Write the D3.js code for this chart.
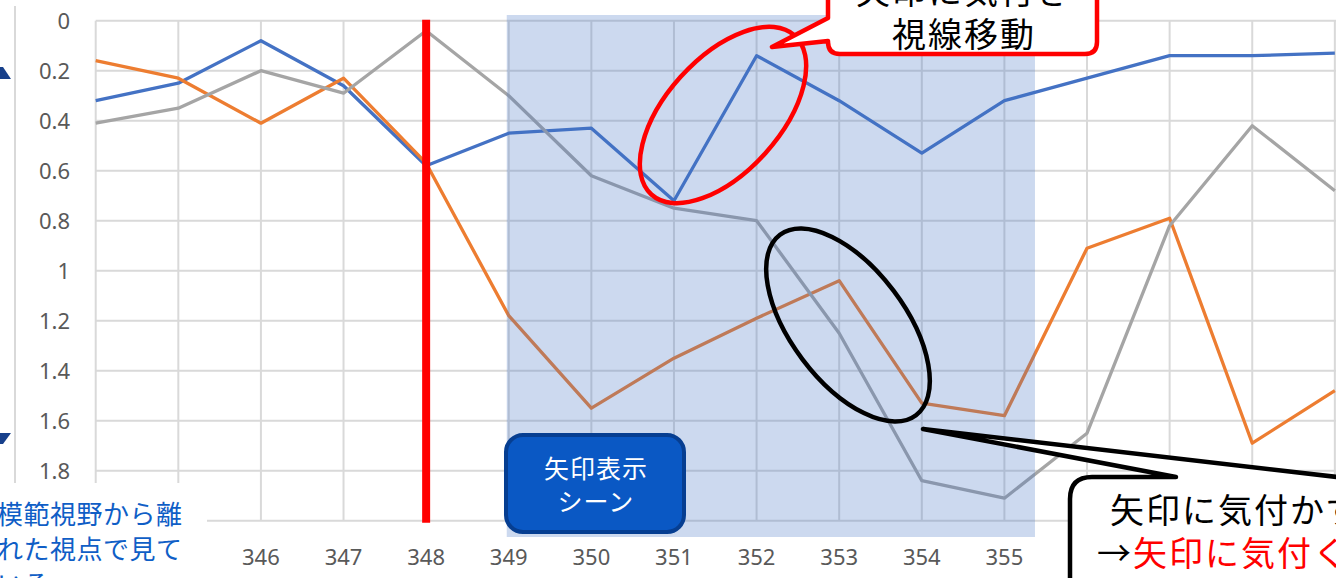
<!DOCTYPE html>
<html>
<head>
<meta charset="utf-8">
<script src="https://cdn.jsdelivr.net/npm/d3@7"></script>
<style>
  html, body { margin: 0; padding: 0; background: #fff; overflow: hidden; }
  svg { display: block; }
</style>
</head>
<body>
<div id="chart"></div>
<script>
// datos de la gráfica (eje Y invertido, 0 arriba)
const categories = ['344', '345', '346', '347', '348', '349', '350', '351', '352', '353', '354', '355', '356', '357', '358', '359'];
const blueValues   = [0.32, 0.25, 0.08, 0.26, 0.58, 0.45, 0.43, 0.72, 0.14, 0.32, 0.53, 0.32, 0.23, 0.14, 0.14, 0.13];
const orangeValues = [0.16, 0.23, 0.41, 0.23, 0.57, 1.18, 1.55, 1.35, 1.19, 1.04, 1.53, 1.58, 0.91, 0.79, 1.69, 1.48];
const grayValues   = [0.41, 0.35, 0.20, 0.29, 0.04, 0.30, 0.62, 0.75, 0.80, 1.25, 1.84, 1.91, 1.65, 0.82, 0.42, 0.68];
const yTicks = [0, 0.2, 0.4, 0.6, 0.8, 1, 1.2, 1.4, 1.6, 1.8, 2];
// etiquetas tapadas por los cuadros de texto en la diapositiva
const hiddenXLabels = ['344', '345', '356', '357', '358', '359'];
const hiddenYLabels = [2];

const series = [
  { name: 'blue', values: blueValues, color: '#4472C4' },
  { name: 'orange', values: orangeValues, color: '#ED7D31' },
  { name: 'gray', values: grayValues, color: '#A5A5A5' }
];

const width = 1336, height = 578;
const step = 82.61;
const left = 95.7;

const svg = d3.select('#chart').append('svg')
  .attr('width', width)
  .attr('height', height);

// escalas
const x = d3.scalePoint()
  .domain(categories)
  .range([left, left + step * (categories.length - 1)]);

const y = d3.scaleLinear()
  .domain([0, 2])
  .range([20.7, 520.7]);

const gridColor = '#D9D9D9';
const jpFont = '"Noto Sans CJK JP", "Noto Sans CJK SC", sans-serif';

// línea vertical izquierda (fuera del gráfico)
svg.append('line')
  .attr('x1', 15).attr('x2', 15)
  .attr('y1', 6).attr('y2', 483)
  .attr('stroke', gridColor)
  .attr('stroke-width', 2);

// puntas de flecha azules a la izquierda
svg.append('path')
  .attr('d', 'M-1,67 L3,67 L11,79 L-1,79 Z')
  .attr('fill', '#17408b');
svg.append('path')
  .attr('d', 'M-1,433 L11,433 L3,444 L-1,444 Z')
  .attr('fill', '#17408b');

// cuadrícula horizontal
svg.append('g')
  .selectAll('line')
  .data(yTicks)
  .join('line')
    .attr('x1', left)
    .attr('x2', width + 10)
    .attr('y1', d => y(d))
    .attr('y2', d => y(d))
    .attr('stroke', gridColor)
    .attr('stroke-width', 2);

// cuadrícula vertical
svg.append('g')
  .selectAll('line')
  .data(categories)
  .join('line')
    .attr('x1', d => x(d))
    .attr('x2', d => x(d))
    .attr('y1', y(0))
    .attr('y2', y(2))
    .attr('stroke', gridColor)
    .attr('stroke-width', 2);

// etiquetas del eje Y
svg.append('g')
  .selectAll('text')
  .data(yTicks.filter(d => !hiddenYLabels.includes(d)))
  .join('text')
    .attr('x', 70)
    .attr('y', d => y(d) + 8)
    .attr('text-anchor', 'end')
    .attr('font-family', '"Noto Sans", sans-serif')
    .attr('font-size', 22)
    .attr('fill', '#595959')
    .text(d => d);

// etiquetas del eje X
svg.append('g')
  .selectAll('text')
  .data(categories.filter(d => !hiddenXLabels.includes(d)))
  .join('text')
    .attr('x', d => x(d))
    .attr('y', 565)
    .attr('text-anchor', 'middle')
    .attr('font-family', '"Noto Sans", sans-serif')
    .attr('font-size', 22)
    .attr('fill', '#595959')
    .text(d => d);

// series
const line = d3.line()
  .x((d, i) => x(categories[i]))
  .y(d => y(d));

svg.append('g')
  .selectAll('path')
  .data(series)
  .join('path')
    .attr('d', d => line(d.values))
    .attr('fill', 'none')
    .attr('stroke', d => d.color)
    .attr('stroke-width', 3.3)
    .attr('stroke-linejoin', 'round');

// línea roja en 348
svg.append('line')
  .attr('x1', x('348')).attr('x2', x('348'))
  .attr('y1', y(0) - 1).attr('y2', y(2) + 2)
  .attr('stroke', '#FF0000')
  .attr('stroke-width', 8);

// zona sombreada "escena con flecha"
const bandLeft = x('349') - 2;
const bandRight = x('355') + 0.37 * step;
svg.append('rect')
  .attr('x', bandLeft)
  .attr('y', 15)
  .attr('width', bandRight - bandLeft)
  .attr('height', 537 - 15)
  .attr('fill', '#4472C4')
  .attr('fill-opacity', 0.27);

// elipses
svg.append('ellipse')
  .attr('cx', 0).attr('cy', 0)
  .attr('rx', 107).attr('ry', 57)
  .attr('transform', 'translate(723,115) rotate(-48)')
  .attr('fill', 'none')
  .attr('stroke', '#FF0000')
  .attr('stroke-width', 4.5);

svg.append('ellipse')
  .attr('cx', 0).attr('cy', 0)
  .attr('rx', 113).attr('ry', 57)
  .attr('transform', 'translate(848,325) rotate(53)')
  .attr('fill', 'none')
  .attr('stroke', '#000')
  .attr('stroke-width', 4.5);

// bocadillo superior (rojo)
svg.append('path')
  .attr('d', 'M828,-40 L828,18 L772,47 L828,41 L828,42 Q828,54 840,54 L1085,54 Q1097,54 1097,42 L1097,-40 Z')
  .attr('fill', '#fff')
  .attr('stroke', '#FF0000')
  .attr('stroke-width', 4.5)
  .attr('stroke-linejoin', 'round');

const topText = svg.append('text')
  .attr('text-anchor', 'middle')
  .attr('font-family', jpFont)
  .attr('font-size', 34)
  .attr('letter-spacing', 2)
  .attr('fill', '#000');
topText.append('tspan').attr('x', 964).attr('y', 4).text('矢印に気付き');
topText.append('tspan').attr('x', 964).attr('y', 47).text('視線移動');

// bocadillo inferior (negro)
svg.append('path')
  .attr('d', 'M1070,650 L1070,499 Q1070,477 1092,477 L1176,477 L923,429 L1337,477 L1420,477 L1420,650 Z')
  .attr('fill', '#fff')
  .attr('stroke', '#000')
  .attr('stroke-width', 4.5)
  .attr('stroke-linejoin', 'round');

svg.append('text')
  .attr('x', 1110)
  .attr('y', 523)
  .attr('font-family', jpFont)
  .attr('font-size', 34)
  .attr('letter-spacing', 2)
  .attr('fill', '#000')
  .text('矢印に気付かず');

const bottomText = svg.append('text')
  .attr('x', 1097)
  .attr('y', 566)
  .attr('font-family', jpFont)
  .attr('font-size', 34)
  .attr('letter-spacing', 2);
bottomText.append('tspan').attr('fill', '#000').text('→');
bottomText.append('tspan').attr('fill', '#FF0000').text('矢印に気付く');

// recuadro azul "矢印表示シーン"
svg.append('rect')
  .attr('x', 506).attr('y', 435)
  .attr('width', 178).attr('height', 97)
  .attr('rx', 17)
  .attr('fill', '#0A58C4')
  .attr('stroke', '#063E91')
  .attr('stroke-width', 4);

const sceneText = svg.append('text')
  .attr('text-anchor', 'middle')
  .attr('font-family', jpFont)
  .attr('font-size', 25)
  .attr('letter-spacing', 1)
  .attr('fill', '#fff');
sceneText.append('tspan').attr('x', 596).attr('y', 478).text('矢印表示');
sceneText.append('tspan').attr('x', 596).attr('y', 511).text('シーン');

// cuadro de texto inferior izquierdo
svg.append('rect')
  .attr('x', -10).attr('y', 483)
  .attr('width', 217).attr('height', 110)
  .attr('fill', '#fff');

const noteText = svg.append('text')
  .attr('font-family', jpFont)
  .attr('font-size', 26)
  .attr('letter-spacing', 0.5)
  .attr('fill', '#0F5EC6');
noteText.append('tspan').attr('x', -3).attr('y', 524).text('模範視野から離');
noteText.append('tspan').attr('x', -3).attr('y', 559).text('れた視点で見て');
noteText.append('tspan').attr('x', -3).attr('y', 594).text('いる');
</script>
</body>
</html>
